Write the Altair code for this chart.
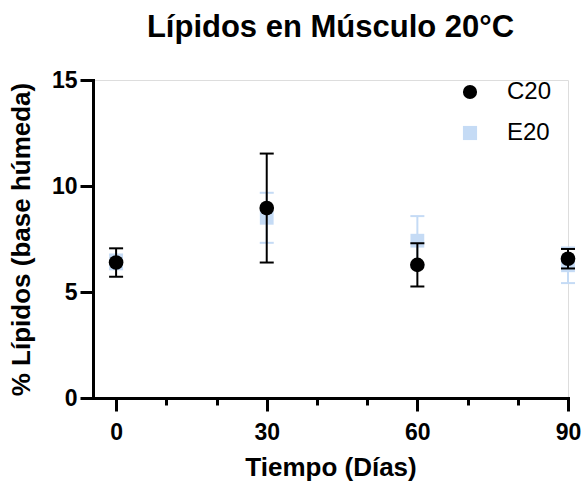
import altair as alt
import pandas as pd

# ---- data ----
days = [0, 30, 60, 90]
c20_mean = [6.39, 8.96, 6.28, 6.57]
c20_err = [0.67, 2.57, 1.02, 0.46]
e20_mean = [6.42, 8.50, 7.42, 6.26]
e20_err = [0.35, 1.18, 1.16, 0.84]

series_names = ["C20", "E20"]
series_colors = ["#000000", "#C5DBF5"]
series_shapes = ["circle", "square"]

x_tick_values = [0, 10, 20, 30, 40, 50, 60, 70, 80, 90]
y_tick_values = [0, 5, 10, 15]

FONT = "Liberation Sans"


def frame(name, means, errs):
    return pd.DataFrame({
        "day": days,
        "value": means,
        "lo": [m - e for m, e in zip(means, errs)],
        "hi": [m + e for m, e in zip(means, errs)],
        "series": name,
    })


c20 = frame("C20", c20_mean, c20_err)
e20 = frame("E20", e20_mean, e20_err)

x_scale = alt.Scale(domain=[-4.6, 90], nice=False, zero=False)
y_scale = alt.Scale(domain=[0, 15], nice=False, zero=True)

x_axis = alt.Axis(
    values=x_tick_values,
    labelExpr="datum.value % 30 === 0 ? datum.label : ''",
    labelOverlap=False,
    labelFlush=False,
    labelFont=FONT, labelFontSize=23, labelFontWeight="bold", labelColor="black",
    labelPadding=10,
    tickSize={"condition": {"test": "datum.value % 30 === 0", "value": 13}, "value": 7},
    tickWidth=3, tickColor="black",
    domainWidth=3, domainColor="black", domainCap="square",
    grid=False,
    titleFont=FONT, titleFontSize=26, titleFontWeight="bold", titleColor="black",
    titleBaseline="alphabetic", titleY=77,
)

y_axis = alt.Axis(
    values=y_tick_values,
    labelFlush=False,
    labelFont=FONT, labelFontSize=23, labelFontWeight="bold", labelColor="black",
    labelPadding=3,
    tickSize=13, tickWidth=3, tickColor="black",
    domainWidth=3, domainColor="black", domainCap="square",
    grid=False,
    titleFont=FONT, titleFontSize=26, titleFontWeight="bold", titleColor="black",
    titleBaseline="alphabetic", titleAngle=270, titleAlign="center",
    titleX=-64, titleY=159,
)

X_TITLE = "Tiempo (Días)"
Y_TITLE = "% Lípidos (base húmeda)"


def xenc():
    return alt.X("day:Q", scale=x_scale, axis=x_axis, title=X_TITLE)


def yenc(field):
    return alt.Y(f"{field}:Q", scale=y_scale, axis=y_axis, title=Y_TITLE)


def make_legend():
    return alt.Legend(
        title=None, orient="none", legendX=365, legendY=0,
        labelFont=FONT, labelFontSize=24, labelColor="black",
        symbolSize=200, symbolStrokeWidth=0, symbolOpacity=1,
        labelOffset=25, rowPadding=17, padding=0,
    )


color_enc = alt.Color(
    "series:N",
    scale=alt.Scale(domain=series_names, range=series_colors),
    legend=make_legend(),
)
shape_enc = alt.Shape(
    "series:N",
    scale=alt.Scale(domain=series_names, range=series_shapes),
    legend=make_legend(),
)


def series_layers(df, color, size):
    base = alt.Chart(df)
    rule = base.mark_rule(color=color, strokeWidth=2).encode(
        x=xenc(), y=yenc("lo"), y2="hi:Q"
    )
    cap_lo = base.mark_tick(color=color, orient="horizontal", size=14,
                            thickness=2, opacity=1).encode(x=xenc(), y=yenc("lo"))
    cap_hi = base.mark_tick(color=color, orient="horizontal", size=14,
                            thickness=2, opacity=1).encode(x=xenc(), y=yenc("hi"))
    pts = base.mark_point(filled=True, opacity=1, size=size, strokeWidth=0).encode(
        x=xenc(), y=yenc("value"), color=color_enc, shape=shape_enc
    )
    return [rule, cap_lo, cap_hi, pts]


layers = series_layers(e20, series_colors[1], 190) + series_layers(c20, series_colors[0], 215)

chart = alt.layer(*layers).properties(
    width=475,
    height=318,
    autosize=alt.AutoSizeParams(type="none"),
    padding={"left": 93, "top": 80, "right": 14, "bottom": 87},
    title=alt.TitleParams(
        "Lípidos en Músculo 20°C",
        font=FONT, fontSize=31, fontWeight="bold", color="black",
        anchor="middle", frame="group", baseline="alphabetic", offset=1,
    ),
).configure_view(
    stroke=None
).configure(background="white")

chart.save("out.html", embed_options={"renderer": "svg", "actions": False})
